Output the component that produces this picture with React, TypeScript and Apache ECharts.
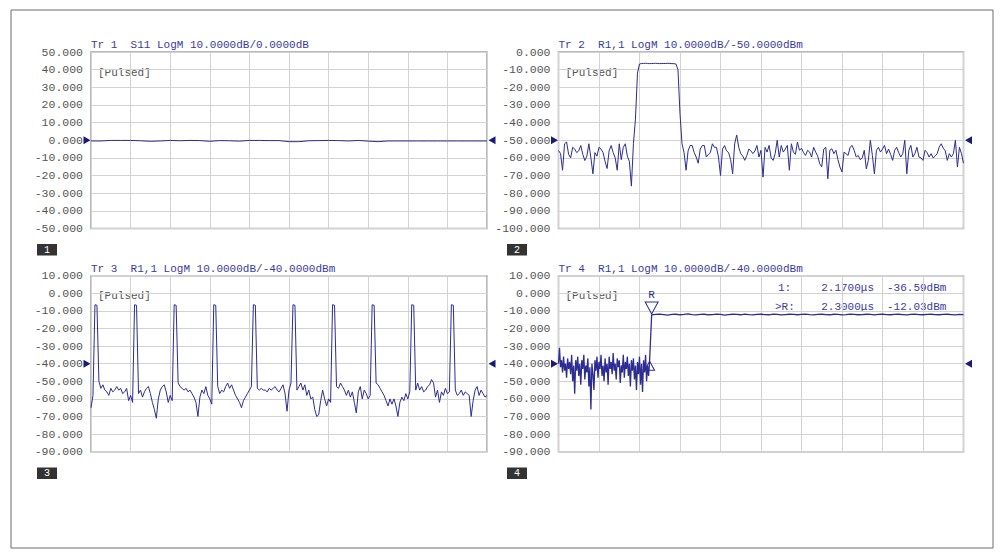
import React, { useEffect, useRef } from "react";
import * as echarts from "echarts";

// ---------- data ----------
const trace1 = [
  -0.4, -0.4, -0.1, -0.1, -0.1, -0.3, -0.6, -0.4, -0.1, -0.3,
  -0.1, -0.2, -0.6, -0.2, -0.3, -0.5, -0.1, -0.1, -0.2, -0.2,
  -0.8, -0.8, -0.3, -0.2, -0.1, -0.2, -0.4, -0.1, -0.5, -0.8,
  -0.4, -0.4, -0.4, -0.4, -0.4, -0.4, -0.4, -0.4, -0.4, -0.4, -0.4,
];

const trace2 = [
  -55.8, -57.5, -67, -52, -51, -58, -60, -54, -55, -57,
  -56, -53, -58, -61.5, -59, -52, -60, -69, -57, -59,
  -54, -55, -57, -62, -66, -56, -53, -57, -60, -67,
  -52, -61, -54, -52, -59, -62, -76, -52,
  -38, -12,
  -6.8, -6.5, -6.5, -6.4, -6.5, -6.6, -6.5, -6.5, -6.4, -6.5,
  -6.6, -6.5, -6.5, -6.5, -6.4, -6.5, -6.6, -6.6,
  -6.8, -10, -35,
  -52, -57, -67, -56, -53, -53, -57, -59.5, -63, -55,
  -53, -53, -59.5, -58, -57, -52, -54, -54, -59.5, -70,
  -55, -53, -56, -57, -61, -69, -52, -47, -54, -57.6,
  -59, -61.4, -58.6, -55, -56, -57.6,
  -56, -53, -59.5, -55.7, -70.9, -54, -56.7, -52.9, -60, -61.4,
  -57.6, -50, -59.5, -53, -56.7, -55, -52.9, -67, -52, -56.7,
  -58, -51, -55.7, -54.5, -57, -58.6, -55.7, -56.7, -59.5, -54,
  -56.7, -59, -63.3, -65, -55, -54, -71.8, -55.7, -54.8, -57.6,
  -55.7, -61, -65.2, -68, -56.7, -57.6, -58.6, -54, -52.9, -55.7,
  -59.5, -58.6, -61, -60, -55.7, -66.2, -61.4, -50, -58.6, -69,
  -55.7, -54, -56.7, -55, -52.9, -57.6, -55, -58, -61.4, -55.7,
  -54, -57, -59.5, -57.6, -50, -69, -55.7, -52.9, -59.5, -57.6,
  -54, -59.5, -60, -61.4, -55.7, -57, -59.5, -57.6, -60, -59,
  -57.6, -53.9, -52, -54.5, -56, -61.4, -57.6, -59.5, -57.6, -50,
  -65.2, -54, -57.6, -63,
];

const trace3 = [
  -65, -58, -6.5, -6.8,
  -50, -54, -52, -55, -56, -58, -54, -56, -55, -53, -55, -54, -57, -56, -54, -61, -58, -62,
  -6.5, -6.8,
  -57, -55, -59, -56, -54, -53, -57, -62, -66, -71, -60, -55, -53, -52, -56, -62, -58, -61,
  -6.5, -6.8,
  -51, -53, -54, -55, -54, -56, -55, -57, -59, -62, -70, -59, -55, -57, -53, -58, -60, -63,
  -6.5, -6.8,
  -53, -57, -55, -56, -53, -51, -54, -52, -55, -58, -60, -62, -65, -61, -59, -57, -55, -53,
  -6.5, -6.8,
  -54, -55, -54, -55, -55, -56, -54, -55, -54, -53, -55, -56, -54, -52, -57, -67, -55, -51,
  -6.5, -6.8,
  -55, -53, -51, -55, -52, -58, -55, -60, -59, -66, -70, -69, -61, -55, -60, -64, -60, -62,
  -6.5, -6.8,
  -53, -54, -51, -53, -55, -58, -55, -59, -56, -62, -68, -56, -53, -60, -55, -57, -60, -58,
  -6.5, -6.8,
  -51, -52, -54, -56, -58, -61, -64, -60, -63, -60, -64, -70, -62, -59, -61, -57, -60, -56,
  -6.5, -6.8,
  -55, -51, -55, -53, -56, -55, -53, -52, -49, -51, -59, -55, -62, -56, -58, -54, -57, -56,
  -6.5, -6.8,
  -55, -58, -57, -55, -58, -56, -57, -58, -70, -61, -55, -53, -58, -55, -57, -59, -58,
];

const trace4Noise = [
  -40, -31, -42, -38, -45, -36, -44, -40, -48, -37,
  -43, -39, -46, -35, -50, -41, -57, -38, -44, -36,
  -47, -40, -52, -38, -43, -35, -49, -41, -45, -37,
  -53, -42, -66, -40, -46, -55, -38, -44, -36, -48,
  -39, -43, -35, -47, -41, -50, -37, -45, -40, -52,
  -36, -43, -39, -46, -34, -44, -40, -49, -37, -42,
  -38, -51, -41, -45, -35, -48, -39, -43, -36, -47,
  -40, -53, -38, -44, -37, -49, -41, -55, -39, -46,
  -36, -52, -40, -56, -38, -45, -35, -50, -41, -47, -38,
];

const trace4Flat = [
  -12.3, -12.0, -11.8, -12.1, -12.4, -12.0, -11.9, -12.2, -12.0, -11.7,
  -12.1, -12.3, -12.0, -11.9, -12.2, -12.1, -11.8, -12.0, -12.4, -12.1,
  -11.9, -12.0, -12.2, -11.8, -12.1, -12.3, -12.0, -11.9, -12.1, -12.2,
  -11.8, -12.0, -12.3, -12.1, -11.9, -12.0, -12.2, -12.0, -11.8, -12.1,
  -12.3, -12.0, -11.9, -12.1, -12.2, -11.9, -12.0, -12.3, -12.1, -11.8,
  -12.0, -12.2, -12.1, -11.9, -12.0, -12.3, -12.0, -11.8, -12.1, -12.2,
  -12.0, -11.9, -12.1, -12.3, -12.0, -11.8, -12.1, -12.2, -12.0, -11.9,
  -12.1, -12.2, -12.0, -11.9, -12.1, -12.3, -12.0, -12.1,
];

const titles = [
  "Tr 1  S11 LogM 10.0000dB/0.0000dB",
  "Tr 2  R1,1 LogM 10.0000dB/-50.0000dBm",
  "Tr 3  R1,1 LogM 10.0000dB/-40.0000dBm",
  "Tr 4  R1,1 LogM 10.0000dB/-40.0000dBm",
];
const yMins = [-50, -100, -90, -90];
const yMaxs = [50, 0, 10, 10];
const refLevels = [0, -50, -40, -40];
const xMaxs = [40, 200, 200, 400];
const panelNumbers = ["1", "2", "3", "4"];
const markerRows = [
  ["1:", "2.1700μs", "-36.59dBm"],
  [">R:", "2.3000μs", "-12.03dBm"],
];
const markerR = { x: 92, y: -12 };
const marker1 = { x: 89, y: -36.59 };

// ---------- layout ----------
const grids = [
  { left: 91, top: 52, width: 396, height: 176.5 },
  { left: 558.5, top: 52, width: 405, height: 176.5 },
  { left: 91, top: 275.7, width: 396, height: 176 },
  { left: 558.5, top: 275.7, width: 405, height: 176 },
];
const boxPos = [
  { x: 37, y: 244 },
  { x: 507, y: 244 },
  { x: 37, y: 467.5 },
  { x: 507, y: 467.5 },
];
const traceWidths = [1, 1, 1, 1.3];

const MONO = '"Liberation Mono", "DejaVu Sans Mono", monospace';
const TRACE = "#2c2c94";
const TITLE = "#3b3ba0";
const LABEL = "#555555";
const NAVY = "#1a1a7a";

const App: React.FC = () => {
  const ref = useRef<HTMLDivElement>(null);

  useEffect(() => {
    if (!ref.current) return;
    const chart = echarts.init(ref.current, undefined, { renderer: "svg" });

    const seriesData: number[][][] = [
      trace1.map((v, i) => [i, v]),
      trace2.map((v, i) => [i, v]),
      trace3.map((v, i) => [i, v]),
      [
        ...trace4Noise.map((v, i) => [i, v]),
        ...trace4Flat.map((v, j) => [
          92 + (j * (400 - 92)) / (trace4Flat.length - 1),
          v,
        ]),
      ],
    ];

    const arrowMarks = (k: number) => [
      {
        coord: [0, refLevels[k]],
        symbol: "path://M0,0L7,4L0,8Z",
        symbolSize: [7, 8],
        symbolOffset: [-4, 0],
        itemStyle: { color: NAVY },
        label: { show: false },
      },
      {
        coord: [xMaxs[k], refLevels[k]],
        symbol: "path://M7,0L0,4L7,8Z",
        symbolSize: [7, 8],
        symbolOffset: [5, 0],
        itemStyle: { color: NAVY },
        label: { show: false },
      },
    ];

    const elements: any[] = [
      {
        type: "rect",
        shape: { x: 11, y: 10, width: 982, height: 538 },
        style: { fill: "none", stroke: "#6a6a6a", lineWidth: 1 },
        silent: true,
      },
    ];
    grids.forEach((g, k) => {
      elements.push({
        type: "text",
        x: g.left,
        y: g.top - 7,
        style: {
          text: titles[k],
          fill: TITLE,
          font: `11px ${MONO}`,
          textAlign: "left",
          textVerticalAlign: "middle",
        },
      });
      elements.push({
        type: "text",
        x: g.left + 7,
        y: g.top + 20.5,
        style: {
          text: "[Pulsed]",
          fill: LABEL,
          font: `11px ${MONO}`,
          textAlign: "left",
          textVerticalAlign: "middle",
        },
      });
      elements.push({
        type: "rect",
        shape: { x: boxPos[k].x, y: boxPos[k].y, width: 20, height: 11.5 },
        style: { fill: "#333333" },
      });
      elements.push({
        type: "text",
        x: boxPos[k].x + 10,
        y: boxPos[k].y + 6,
        style: {
          text: panelNumbers[k],
          fill: "#ffffff",
          font: `10px ${MONO}`,
          textAlign: "center",
          textVerticalAlign: "middle",
        },
      });
    });
    const rowY = [287.7, 306.7];
    markerRows.forEach((row, r) => {
      elements.push({
        type: "text",
        x: r === 0 ? 778 : 775,
        y: rowY[r],
        style: { text: row[0], fill: TITLE, font: `11px ${MONO}`, textAlign: "left", textVerticalAlign: "middle" },
      });
      elements.push({
        type: "text",
        x: 874,
        y: rowY[r],
        style: { text: row[1], fill: TITLE, font: `11px ${MONO}`, textAlign: "right", textVerticalAlign: "middle" },
      });
      elements.push({
        type: "text",
        x: 887,
        y: rowY[r],
        style: { text: row[2], fill: TITLE, font: `11px ${MONO}`, textAlign: "left", textVerticalAlign: "middle" },
      });
    });

    chart.setOption({
      animation: false,
      backgroundColor: "#ffffff",
      grid: grids.map((g) => ({
        ...g,
        show: true,
        backgroundColor: "#ffffff",
        borderColor: "#a3a3a3",
        borderWidth: 1.5,
        containLabel: false,
      })),
      xAxis: grids.map((_, k) => ({
        type: "value",
        gridIndex: k,
        min: 0,
        max: xMaxs[k],
        interval: xMaxs[k] / 10,
        axisLabel: { show: false },
        axisTick: { show: false },
        axisLine: { show: false },
        splitLine: { show: true, lineStyle: { color: "#d2d2d2", width: 1 } },
      })),
      yAxis: grids.map((_, k) => ({
        type: "value",
        gridIndex: k,
        min: yMins[k],
        max: yMaxs[k],
        interval: 10,
        axisLabel: {
          show: true,
          margin: 8,
          color: LABEL,
          fontFamily: MONO,
          fontSize: 11.5,
          formatter: (v: number) => v.toFixed(3),
        },
        axisTick: { show: false },
        axisLine: { show: false },
        splitLine: { show: true, lineStyle: { color: "#d2d2d2", width: 1 } },
      })),
      series: seriesData.map((d, k) => ({
        type: "line",
        xAxisIndex: k,
        yAxisIndex: k,
        data: d,
        symbol: "none",
        silent: true,
        lineStyle: { color: TRACE, width: traceWidths[k] },
        markPoint: {
          silent: true,
          data:
            k === 3
              ? [
                  ...arrowMarks(k),
                  {
                    coord: [markerR.x, markerR.y],
                    symbol: "path://M0,0L12,0L6,11Z",
                    symbolSize: [13, 12],
                    symbolOffset: [0, -6.5],
                    itemStyle: { color: "rgba(255,255,255,0)", borderColor: TRACE, borderWidth: 1 },
                    label: {
                      show: true,
                      formatter: "R",
                      position: "top",
                      distance: 1,
                      color: TRACE,
                      fontFamily: MONO,
                      fontSize: 11,
                    },
                  },
                  {
                    coord: [marker1.x, marker1.y],
                    symbol: "path://M6,0L12,10L0,10Z",
                    symbolSize: [10, 9],
                    symbolOffset: [1, 8],
                    itemStyle: { color: "rgba(255,255,255,0)", borderColor: TRACE, borderWidth: 1 },
                    label: { show: false },
                  },
                ]
              : arrowMarks(k),
        },
      })),
      graphic: { elements },
    });

    return () => chart.dispose();
  }, []);

  return (
    <div
      ref={ref}
      style={{ position: "fixed", left: 0, top: 0, width: 1000, height: 559, background: "#fff" }}
    />
  );
};

export default App;
